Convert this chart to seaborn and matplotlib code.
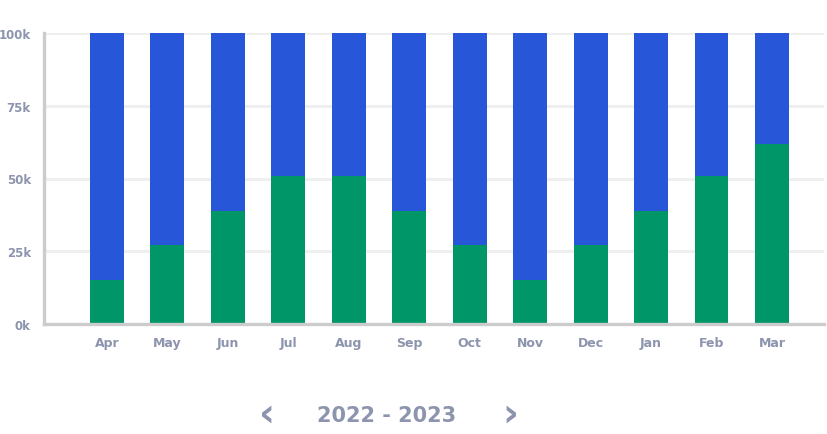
import matplotlib
matplotlib.use("Agg")
import matplotlib.pyplot as plt
import seaborn as sns
import pandas as pd

months = ["Apr", "May", "Jun", "Jul", "Aug", "Sep", "Oct", "Nov", "Dec", "Jan", "Feb", "Mar"]
green_vals = [15, 27, 39, 51, 51, 39, 27, 15, 27, 39, 51, 62]
blue_vals = [85, 73, 61, 49, 49, 61, 73, 85, 73, 61, 49, 38]
y_ticks = [0, 25, 50, 75, 100]
y_labels = ["0k", "25k", "50k", "75k", "100k"]
period = "2022 - 2023"

GREEN = "#009668"
BLUE = "#2756d8"
LABEL = "#8c94ae"

sns.set_style("white")
plt.rcParams["font.family"] = ["DejaVu Sans"]

df = pd.DataFrame({"month": months, "green": green_vals,
                   "total": [g + b for g, b in zip(green_vals, blue_vals)]})

fig = plt.figure(figsize=(8.28, 4.35), dpi=100)
ax = fig.add_axes([44 / 828, 1 - 325 / 435, (824 - 44) / 828, (325 - 34) / 435])

sns.barplot(data=df, x="month", y="total", color=BLUE, width=0.56,
            saturation=1, ax=ax, zorder=3, linewidth=0)
sns.barplot(data=df, x="month", y="green", color=GREEN, width=0.56,
            saturation=1, ax=ax, zorder=3, linewidth=0)

ax.set_xlim(-1.04, 11.86)
ax.set_ylim(0, 100)
ax.set_yticks(y_ticks)
ax.set_yticklabels(y_labels)
ax.set_xlabel("")
ax.set_ylabel("")
ax.grid(axis="y", color="#efefef", linewidth=2.2, zorder=0)
ax.set_axisbelow(True)
for s in ["top", "right"]:
    ax.spines[s].set_visible(False)
for s in ["left", "bottom"]:
    ax.spines[s].set_color("#cccccc")
    ax.spines[s].set_linewidth(2.4)
    ax.spines[s].set_zorder(4)
ax.tick_params(axis="both", length=0, labelcolor=LABEL)
ax.tick_params(axis="x", pad=9, labelsize=9)
ax.tick_params(axis="y", pad=9.5, labelsize=8.5)
for lbl in ax.get_xticklabels() + ax.get_yticklabels():
    lbl.set_fontweight("bold")

fig.text(387 / 828, 1 - 416 / 435, period, ha="center", va="center",
         fontsize=15, fontweight="bold", color=LABEL)
fig.text(267 / 828, 1 - 415 / 435, "\u2039", ha="center", va="center",
         fontsize=28, fontweight="bold", color=LABEL)
fig.text(510 / 828, 1 - 415 / 435, "\u203a", ha="center", va="center",
         fontsize=28, fontweight="bold", color=LABEL)

fig.savefig("out.png", dpi=100)
